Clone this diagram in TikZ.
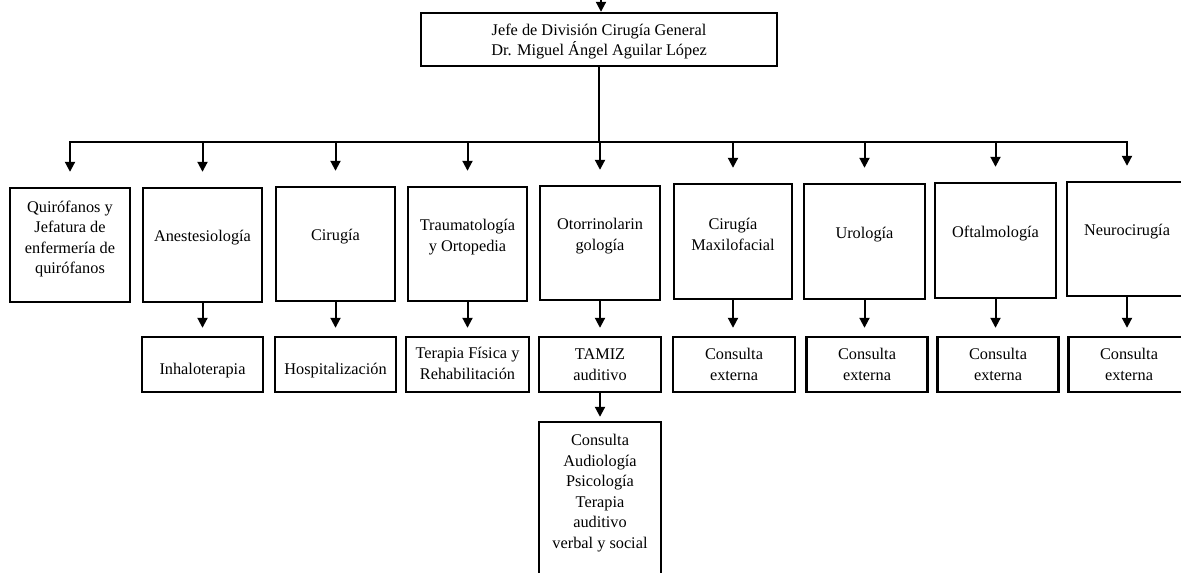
\documentclass[tikz,border=0pt]{standalone}
\usepackage{fontspec}
\setmainfont{Liberation Serif}
\usetikzlibrary{arrows.meta}
\begin{document}
\begin{tikzpicture}[x=1pt,y=-1pt,
  box/.style={draw, line width=2.4pt, inner sep=0pt},
  lvone/.style={box, minimum width=120pt, minimum height=114pt},
  lvtwo/.style={box, minimum width=121pt, minimum height=55pt},
  txt/.style={align=center, inner sep=0pt, font=\fontsize{16.3}{20.6}\selectfont},
  conn/.style={line width=2pt, -{Triangle[length=10pt,width=10pt]}}
]
\useasboundingbox (0,0) rectangle (1181,573);
\clip (0,0) rectangle (1181,573);
\fill[white] (0,0) rectangle (1181,573);

% top box
\node[box, minimum width=356pt, minimum height=53pt] (top) at (599,39.5) {};
\node[txt] (toptxt) at ([yshift=-2pt]top.center) {Jefe de División Cirugía General\\Dr. Miguel Ángel Aguilar López};
\coordinate (topin) at (601,-8);
\draw[conn] (topin) -- (top.north -| topin);

% level 1
\node[lvone] (b1) at (70,245) {};
\node[lvone, minimum width=119pt] (b2) at (202.5,245) {};
\node[lvone, minimum width=119pt] (b3) at (335.5,244) {};
\node[lvone, minimum width=119pt] (b4) at (467.5,244) {};
\node[lvone] (b5) at (600,243) {};
\node[lvone, minimum width=118pt, minimum height=115pt] (b6) at (733,241.5) {};
\node[lvone, minimum width=121pt, minimum height=115pt] (b7) at (864.5,241.5) {};
\node[lvone, minimum width=121pt, minimum height=115pt] (b8) at (995.5,240.5) {};
\node[lvone] (b9) at (1127,239) {};

\node[txt] (t1) at ([yshift=6pt]b1.center) {Quirófanos y\\Jefatura de\\enfermería de\\quirófanos};
\node[txt] (t2) at ([yshift=7pt]b2.center) {Anestesiología};
\node[txt] (t3) at ([yshift=7pt]b3.center) {Cirugía};
\node[txt] (t4) at ([yshift=7pt]b4.center) {Traumatología\\y Ortopedia};
\node[txt] (t5) at ([yshift=7pt]b5.center) {Otorrinolarin\\gología};
\node[txt] (t6) at ([yshift=7pt]b6.center) {Cirugía\\Maxilofacial};
\node[txt] (t7) at ([yshift=7pt]b7.center) {Urología};
\node[txt] (t8) at ([yshift=7pt]b8.center) {Oftalmología};
\node[txt] (t9) at ([yshift=7pt]b9.center) {Neurocirugía};

% bus
\coordinate (busL) at (70,142);
\coordinate (busR) at (1127,142);
\draw[line width=2pt] (top.south) -- (top.south |- busL);
\draw[line width=2pt, line cap=rect] (busL) -- (busR);
\foreach \b in {b1,b2,b3,b4,b5,b6,b7,b8,b9}{
  \draw[conn, shorten >=15pt] (\b.north |- busL) -- (\b.north);
}

% level 2
\node[lvtwo] (c2) at (202.5,364.5) {};
\node[lvtwo] (c3) at (335.5,364.5) {};
\node[lvtwo, minimum width=123pt] (c4) at (467.5,364.5) {};
\node[lvtwo, minimum width=122pt] (c5) at (600,364.5) {};
\node[lvtwo, minimum width=122pt] (c6) at (734,364.5) {};
\node[lvtwo] (c7) at (867,364.5) {};
\node[lvtwo] (c8) at (998,364.5) {};
\node[lvtwo] (c9) at (1129,364.5) {};

\node[txt] (u2) at ([yshift=-6pt]c2.center) {Inhaloterapia};
\node[txt] (u3) at ([yshift=-6pt]c3.center) {Hospitalización};
\node[txt] (u4) at ([yshift=1pt]c4.center) {Terapia Física y\\Rehabilitación};
\node[txt] (u5) at ([yshift=0pt]c5.center) {TAMIZ\\auditivo};
\node[txt] (u6) at ([yshift=0pt]c6.center) {Consulta\\externa};
\node[txt] (u7) at ([yshift=0pt]c7.center) {Consulta\\externa};
\node[txt] (u8) at ([yshift=0pt]c8.center) {Consulta\\externa};
\node[txt] (u9) at ([yshift=0pt]c9.center) {Consulta\\externa};

\foreach \i in {2,...,9}{
  \draw[conn, shorten >=8pt] (b\i.south) -- (b\i.south |- c\i.north);
}

% level 3
\node[box, minimum width=122pt, minimum height=170pt] (d5) at (600,507) {};
\node[txt] (v5) at (600,493) {Consulta\\Audiología\\Psicología\\Terapia\\auditivo\\verbal y social};
\draw[conn, shorten >=4pt] (c5.south) -- (c5.south |- d5.north);
\end{tikzpicture}
\end{document}
